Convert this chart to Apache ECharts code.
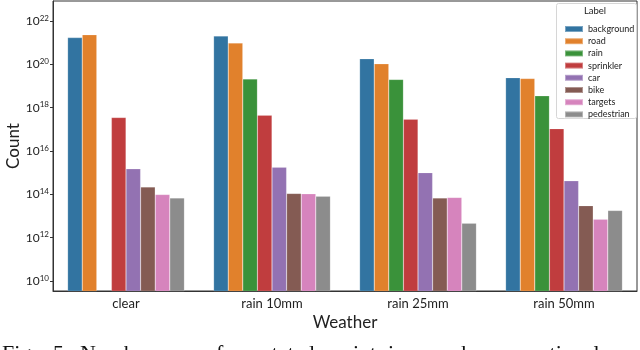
<!DOCTYPE html>
<html>
<head>
<meta charset="utf-8">
<script src="https://cdn.jsdelivr.net/npm/echarts@6/dist/echarts.min.js"></script>
<style>
  html, body { margin: 0; padding: 0; background: #fff; }
  #chart { width: 640px; height: 350px; }
</style>
</head>
<body>
<div id="chart"></div>
<script>
// categories and labels
var weather = ['clear', 'rain 10mm', 'rain 25mm', 'rain 50mm'];
var labels = ['background', 'road', 'rain', 'sprinkler', 'car', 'bike', 'targets', 'pedestrian'];
var colors = ['#3274a1', '#e1812c', '#3a923a', '#c03d3e', '#9372b2', '#845b53', '#d684bd', '#8c8c8c'];

// counts per label, one value per weather
var background = [1.7e21, 2.0e21, 1.8e20, 2.4e19];
var road       = [2.3e21, 9.5e20, 1.05e20, 2.2e19];
var rain       = [null,   2.1e19, 2.0e19, 3.5e18];
var sprinkler  = [3.5e17, 4.5e17, 2.9e17, 1.07e17];
var car        = [1.5e15, 1.8e15, 1.0e15, 4.2e14];
var bike       = [2.2e14, 1.1e14, 6.8e13, 3.0e13];
var targets    = [9.8e13, 1.05e14, 7.2e13, 7.1e12];
var pedestrian = [6.8e13, 8.1e13, 4.6e12, 1.8e13];

// y tick values
var yTicks = [1e10, 1e12, 1e14, 1e16, 1e18, 1e20, 1e22];

var values = [background, road, rain, sprinkler, car, bike, targets, pedestrian];
var caption = ['Fig.', '5:', 'Number', 'of', 'annotated', 'points', 'in', 'each', 'conventional'];
var captionX = [2, 53, 80, 205, 229, 331, 388, 432, 486];

var series = labels.map(function (name, i) {
    return {
        name: name,
        type: 'bar',
        data: values[i],
        barGap: '0%',
        barCategoryGap: '20%',
        itemStyle: { color: colors[i], borderColor: 'rgba(255,255,255,0.35)', borderWidth: 0.5 }
    };
});

var graphics = [
    {
        type: 'rect', z: 3,
        shape: { x: 556.5, y: 3.5, width: 80, height: 115, r: 2 },
        style: { fill: 'rgba(255,255,255,0.85)', stroke: '#d6d6d6', lineWidth: 1 }
    },
    {
        type: 'text', z: 5,
        style: { text: 'Label', x: 595, y: 11, align: 'center', verticalAlign: 'middle',
                 font: '9.5px Lato', fill: '#222' }
    }
];
caption.forEach(function (w, i) {
    graphics.push({
        type: 'text',
        style: { text: w, x: captionX[i], y: 365, verticalAlign: 'bottom',
                 font: '22px "Liberation Serif"', fill: '#111' }
    });
});

var option = {
    animation: false,
    backgroundColor: '#fff',
    textStyle: { fontFamily: 'Lato' },
    color: colors,
    grid: {
        left: 53, right: 3, top: 1, bottom: 59,
        outerBoundsMode: 'none',
        containLabel: false,
        show: true, borderColor: '#333', borderWidth: 1
    },
    legend: {
        orient: 'vertical',
        left: 559, top: 18,
        itemWidth: 18, itemHeight: 6, itemGap: 0.2,
        icon: 'rect',
        z: 6,
        textStyle: { fontSize: 9, lineHeight: 12, color: '#222', fontFamily: 'Lato' },
        data: labels
    },
    xAxis: {
        type: 'category',
        data: weather,
        axisLine: { show: true, lineStyle: { color: '#333' } },
        axisTick: { show: false },
        axisLabel: { fontSize: 13, color: '#222', margin: 6 },
        name: 'Weather',
        nameLocation: 'middle',
        nameGap: 23,
        nameMoveOverlap: false,
        nameTextStyle: { fontSize: 17, color: '#222' }
    },
    yAxis: {
        type: 'log',
        logBase: 10,
        min: Math.pow(10, 9.54),
        max: Math.pow(10, 22.92),
        axisLine: { show: true, lineStyle: { color: '#333' } },
        axisTick: { show: true, length: 3, lineStyle: { color: '#333' }, customValues: yTicks },
        splitLine: { show: false },
        axisLabel: {
            margin: 4,
            customValues: yTicks,
            formatter: function (v) {
                var e = Math.round(Math.log10(v));
                return '{b|10}{s|' + e + '}';
            },
            rich: {
                b: { fontSize: 12, color: '#222', lineHeight: 14 },
                s: { fontSize: 8, color: '#222', lineHeight: 14, verticalAlign: 'top' }
            }
        },
        name: 'Count',
        nameLocation: 'middle',
        nameGap: 31,
        nameMoveOverlap: false,
        nameTextStyle: { fontSize: 17, color: '#222' }
    },
    graphic: graphics,
    series: series
};

var myChart = echarts.init(document.getElementById('chart'));
myChart.setOption(option);
</script>
</body>
</html>
